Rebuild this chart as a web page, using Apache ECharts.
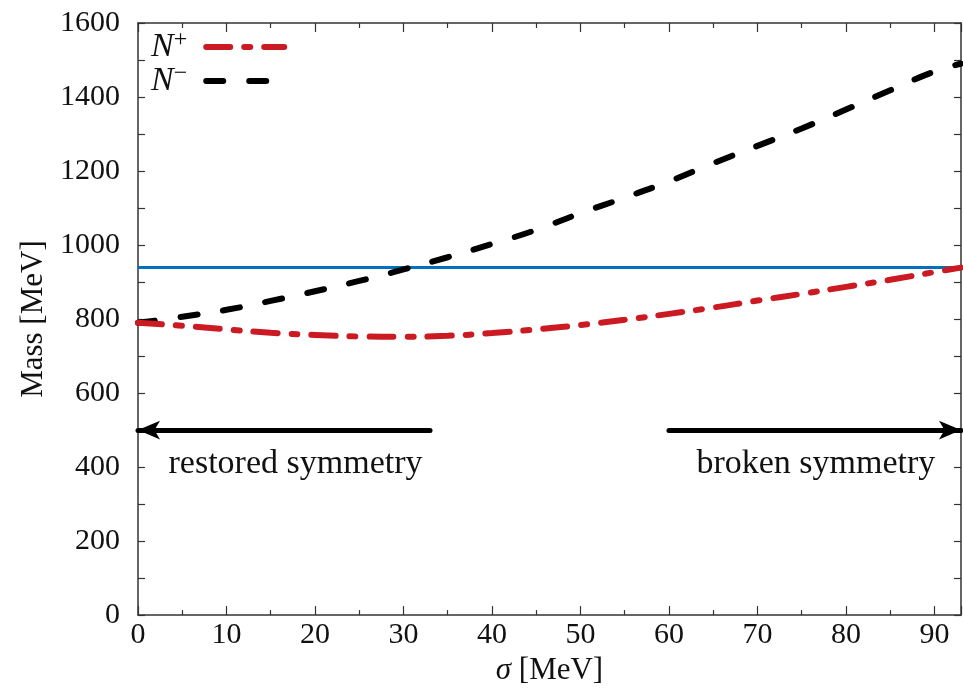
<!DOCTYPE html>
<html>
<head>
<meta charset="utf-8">
<script src="https://cdn.jsdelivr.net/npm/echarts@6/dist/echarts.min.js"></script>
<style>
  html, body { margin: 0; padding: 0; background: #fff; }
  #main { width: 963px; height: 691px; }
</style>
</head>
<body>
<div id="main"></div>
<script>
// sigma [MeV] sample points
var sigma = [0, 5, 10, 15, 20, 25, 30, 35, 40, 45, 50, 55, 60, 65, 70, 75, 80, 85, 90, 93]
// N+ mass [MeV]
var massPlus = [790, 782, 772, 763, 757, 753, 752, 755, 762, 772, 784, 798, 814, 831, 850, 868, 887, 906, 927, 939]
// N- mass [MeV]
var massMinus = [790, 806, 825, 849, 875, 903, 934, 967, 1003, 1041, 1086, 1128, 1172, 1221, 1268, 1315, 1366, 1418, 1469, 1490]
var nucleonMass = 939
var sigmaRange = [0, 93]
var massRange = [0, 1600]
// arrows at mass = 500: [from, to]
var arrowMass = 500
var restoredArrow = [33, 0]
var brokenArrow = [60, 93]
// annotation texts: [sigma, mass, text]
var notes = [
  [17.8, 408, 'restored symmetry'],
  [76.6, 408, 'broken symmetry']
]

var serif = 'Liberation Serif'
var ink = '#111'
var axisColor = '#333'
var red = '#cc1a22'

function pairs (xs, ys) {
  return xs.map(function (x, i) { return [x, ys[i]] })
}

var chart = echarts.init(document.getElementById('main'), null, { renderer: 'canvas' })

var baseX = {
  type: 'value',
  min: sigmaRange[0],
  max: sigmaRange[1],
  interval: 10,
  axisLine: { show: true, onZero: false, lineStyle: { color: axisColor, width: 1.5 } },
  axisTick: { show: true, inside: true, length: 9, lineStyle: { color: axisColor, width: 1.2 } },
  minorTick: { show: true, splitNumber: 2, length: 5, lineStyle: { color: axisColor, width: 1.2 } },
  splitLine: { show: false }
}
var baseY = {
  type: 'value',
  min: massRange[0],
  max: massRange[1],
  interval: 200,
  axisLine: { show: true, onZero: false, lineStyle: { color: axisColor, width: 1.5 } },
  axisTick: { show: true, inside: true, length: 7, lineStyle: { color: axisColor, width: 1.2 } },
  minorTick: { show: true, splitNumber: 2, length: 7, lineStyle: { color: axisColor, width: 1.2 } },
  splitLine: { show: false }
}

var options = {
  animation: false,
  backgroundColor: '#fff',
  grid: {
    left: 138,
    right: 2,
    top: 23,
    bottom: 72,
    containLabel: false
  },
  legend: {
    left: 146,
    top: 23,
    orient: 'vertical',
    align: 'right',
    itemWidth: 78,
    itemHeight: 14,
    itemGap: -2,
    data: [
      { name: 'N+', itemStyle: { opacity: 0 }, lineStyle: { color: red, width: 6, type: [24, 14, 6, 14], cap: 'round' } },
      { name: 'N-', itemStyle: { opacity: 0 }, lineStyle: { color: '#000', width: 6, type: [17, 26], cap: 'round' } }
    ],
    formatter: function (name) {
      return name === 'N+' ? '{n|N}{s|+}' : '{n|N}{s|\u2212}'
    },
    textStyle: {
      color: ink,
      padding: [0, 14, 0, 0],
      rich: {
        n: { fontFamily: serif, fontStyle: 'italic', fontSize: 34, color: ink },
        s: { fontFamily: serif, fontSize: 24, color: ink, verticalAlign: 'top', padding: [0, 0, 14, 0] }
      }
    }
  },
  xAxis: [
    Object.assign({}, baseX, {
      position: 'bottom',
      name: '{i|\u03c3} [MeV]',
      nameLocation: 'middle',
      nameGap: 36,
      nameTextStyle: {
        fontFamily: serif,
        fontSize: 31,
        color: ink,
        rich: { i: { fontFamily: serif, fontStyle: 'italic', fontSize: 31, color: ink } }
      },
      axisLabel: { show: true, showMaxLabel: false, margin: 5, fontFamily: serif, fontSize: 30, color: ink }
    }),
    Object.assign({}, baseX, {
      position: 'top',
      axisLabel: { show: false }
    })
  ],
  yAxis: [
    Object.assign({}, baseY, {
      position: 'left',
      name: 'Mass [MeV]',
      nameLocation: 'middle',
      nameGap: 80,
      nameTextStyle: { fontFamily: serif, fontSize: 31, color: ink },
      axisLabel: {
        show: true,
        margin: 18,
        fontFamily: serif,
        fontSize: 30,
        color: ink,
        formatter: function (v) { return String(v) }
      }
    }),
    Object.assign({}, baseY, {
      position: 'right',
      axisLabel: { show: false }
    })
  ],
  series: [
    {
      name: 'nucleon',
      type: 'line',
      data: pairs(sigmaRange, [nucleonMass, nucleonMass]),
      showSymbol: false,
      lineStyle: { color: '#0072bd', width: 3 },
      silent: true,
      z: 2
    },
    {
      name: 'N-',
      type: 'line',
      data: pairs(sigma, massMinus),
      smooth: true,
      showSymbol: false,
      symbol: 'none',
      color: '#000',
      lineStyle: { color: '#000', width: 6, type: [17, 26], cap: 'round' },
      z: 3
    },
    {
      name: 'N+',
      type: 'line',
      data: pairs(sigma, massPlus),
      smooth: true,
      showSymbol: false,
      symbol: 'none',
      color: red,
      lineStyle: { color: red, width: 6, type: [24, 14, 6, 14], cap: 'round' },
      z: 4
    },
    {
      name: 'arrows',
      type: 'line',
      data: [],
      markLine: {
        silent: true,
        animation: false,
        symbol: ['none', 'arrow'],
        symbolSize: [14, 22],
        label: { show: false },
        lineStyle: { color: '#000', width: 5, type: 'solid', cap: 'round' },
        data: [
          [{ coord: [restoredArrow[0], arrowMass] }, { coord: [restoredArrow[1], arrowMass] }],
          [{ coord: [brokenArrow[0], arrowMass] }, { coord: [brokenArrow[1], arrowMass] }]
        ]
      }
    },
    {
      name: 'notes',
      type: 'scatter',
      symbolSize: 0,
      silent: true,
      itemStyle: { opacity: 1 },
      data: notes.map(function (n) { return { value: [n[0], n[1]], name: n[2] } }),
      label: {
        show: true,
        position: 'inside',
        formatter: '{b}',
        fontFamily: serif,
        fontSize: 34,
        color: ink,
        opacity: 1,
        textBorderWidth: 0
      }
    }
  ]
}

chart.setOption(options)
</script>
</body>
</html>
